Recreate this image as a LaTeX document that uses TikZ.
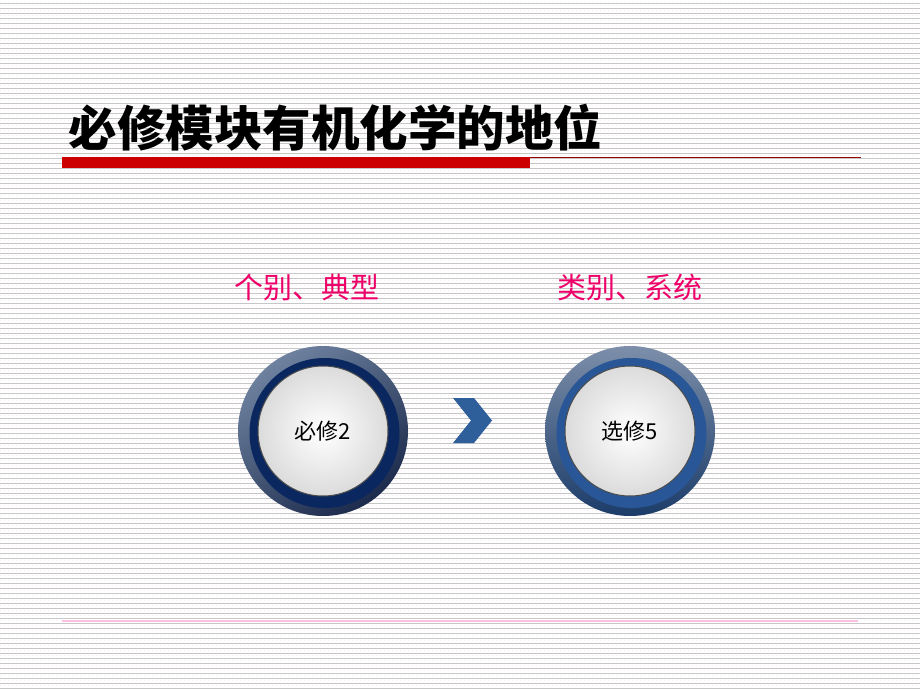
\documentclass[tikz,border=0pt]{standalone}
\usepackage{fontspec}
\newfontfamily\cjk{Noto Sans CJK SC}
\definecolor{titlered}{RGB}{204,0,0}
\definecolor{labelred}{RGB}{238,0,105}
\definecolor{ringlight}{RGB}{110,130,160}
\definecolor{ringdark}{RGB}{28,42,75}
\definecolor{navy}{RGB}{10,40,95}
\definecolor{ringblue}{RGB}{40,86,150}
\definecolor{chevblue}{RGB}{47,95,155}
\begin{document}
\begin{tikzpicture}[x=1pt, y=-1pt,
  ring/.style={circle, minimum size=170pt, inner sep=0pt, top color=ringlight, bottom color=ringdark, shading angle=35},
  disk/.style={circle, minimum size=130pt, inner sep=0pt, inner color=white, outer color=black!14, draw=black!70, line width=1pt, font=\cjk\fontsize{22}{26}\selectfont},
  label/.style={text=labelred, font=\cjk\fontsize{29}{34}\selectfont}]
	\useasboundingbox (0,0) rectangle (920,690);
	\fill[white] (0,0) rectangle (920,690);
	% ruled background
	\foreach \y in {3,8,...,688}
		\draw[black!22, line width=0.8pt] (0,\y) -- (920,\y);
	\foreach \y in {5.5,10.5,...,688}
		\draw[magenta!9, line width=0.5pt, dash pattern=on 1pt off 3pt] (0,\y) -- (920,\y);
	% title
	\node[anchor=west, font=\cjk\bfseries\fontsize{48.5}{52}\selectfont] (title) at (65,128) {必修模块有机化学的地位};
	\fill[titlered] (62,157) rectangle (530,168);
	\draw[titlered!75!black, line width=1.2pt] (530,157.6) -- (861,157.6);
	\draw[magenta!25, line width=1.2pt] (62,621) -- (858,621);
	% labels
	\node[label] (l1) at (307,287) {个别、典型};
	\node[label] (l2) at (630,287) {类别、系统};
	% buttons
	\node[ring] (b1) at (323,431) {};
	\fill[navy] ([shift={(1.5,2)}]b1.center) circle [radius=75];
	\node[disk] (m2) at (323,431) {必修2};
	\node[ring, top color=ringlight!90!white, bottom color=ringblue!70!black] (b2) at (630,431) {};
	\fill[ringblue] ([shift={(1.5,2)}]b2.center) circle [radius=75];
	\node[disk] (m5) at (630,431) {\raisebox{-4pt}{选修5}};
	% chevron
	\fill[chevblue] (453,398) -- (474,398) -- (492,420.5) -- (474,443) -- (453,443) -- (471,420.5) -- cycle;
\end{tikzpicture}
\end{document}
